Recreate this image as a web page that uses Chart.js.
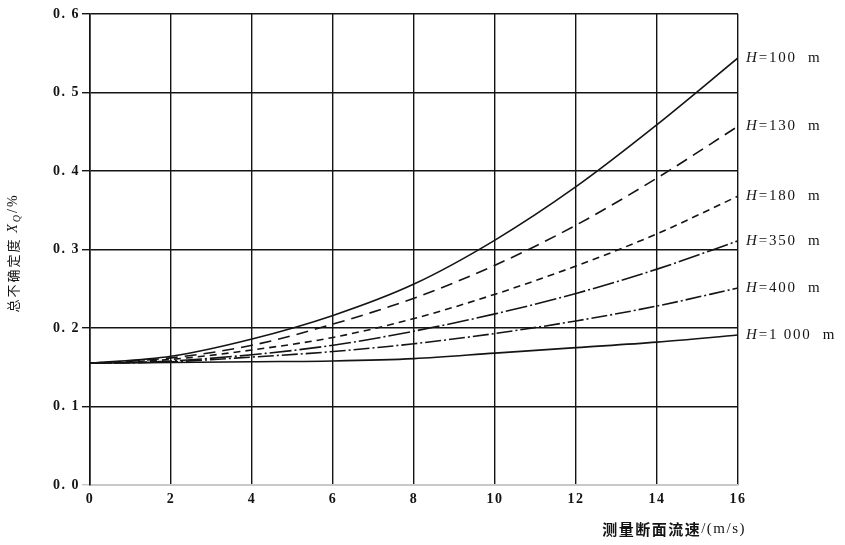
<!DOCTYPE html>
<html>
<head>
<meta charset="utf-8">
<script src="https://cdn.jsdelivr.net/npm/chart.js@4/dist/chart.umd.min.js"></script>
<style>
  html, body { margin: 0; padding: 0; background: #fff; }
  #wrap { width: 845px; height: 545px; }
</style>
</head>
<body>
<div id="wrap"><canvas id="c" width="845" height="545"></canvas></div>
<script>
// Flow velocity at the measuring section, m/s
const velocities = [0, 2, 4, 6, 8, 10, 12, 14, 16];

// Total uncertainty (%) for each head H
const h100  = [0.155, 0.164, 0.186, 0.216, 0.256, 0.312, 0.380, 0.459, 0.544];
const h130  = [0.155, 0.162, 0.178, 0.205, 0.238, 0.280, 0.331, 0.391, 0.457];
const h180  = [0.155, 0.160, 0.172, 0.188, 0.212, 0.243, 0.279, 0.320, 0.368];
const h350  = [0.155, 0.158, 0.166, 0.178, 0.196, 0.218, 0.244, 0.275, 0.311];
const h400  = [0.155, 0.157, 0.163, 0.170, 0.180, 0.193, 0.209, 0.228, 0.251];
const h1000 = [0.155, 0.156, 0.157, 0.158, 0.161, 0.168, 0.175, 0.182, 0.191];

const seriesNames = ['=100  m', '=130  m', '=180  m', '=350  m', '=400  m', '=1 000  m'];
const yTicks = [0.0, 0.1, 0.2, 0.3, 0.4, 0.5, 0.6];
const xTicks = [0, 2, 4, 6, 8, 10, 12, 14, 16];

const yTitleParts = ['总不确定度 ', 'X', 'Q', '/%'];
const xTitleParts = ['测量断面流速', '/(m/s)'];

const ink = '#141414';
const serif = '"Liberation Serif", "DejaVu Serif", serif';
const cjk = '"Noto Sans CJK SC", "Noto Sans", sans-serif';

const styles = [
  { dash: [] },
  { dash: [12, 7] },
  { dash: [7, 5] },
  { dash: [22, 3, 2, 3] },
  { dash: [16, 3, 2, 3] },
  { dash: [] }
];

const seriesValues = [h100, h130, h180, h350, h400, h1000];

const datasets = seriesValues.map((vals, i) => ({
  label: 'H' + seriesNames[i],
  data: vals.map((v, k) => ({ x: velocities[k], y: v })),
  borderColor: ink,
  borderWidth: 1.6,
  borderDash: styles[i].dash,
  pointRadius: 0,
  fill: false,
  cubicInterpolationMode: 'monotone',
  tension: 0.4
}));

// White page and slightly spaced lettering for all chart text
const spacing = {
  id: 'spacing',
  beforeDraw(chart) {
    const ctx = chart.ctx;
    ctx.fillStyle = '#fff';
    ctx.fillRect(0, 0, chart.width, chart.height);
    ctx.letterSpacing = '1.5px';
  }
};

// Curve labels at the right end of each line, plus the axis titles
const annotate = {
  id: 'annotate',
  afterDraw(chart) {
    const ctx = chart.ctx;
    const xs = chart.scales.x, ys = chart.scales.y;
    ctx.save();
    ctx.letterSpacing = '1.8px';
    ctx.fillStyle = ink;
    ctx.textBaseline = 'middle';
    ctx.textAlign = 'left';
    seriesValues.forEach((vals, i) => {
      const last = vals.length - 1;
      const px = xs.getPixelForValue(velocities[last]) + 8;
      const py = ys.getPixelForValue(vals[last]);
      ctx.font = 'italic 15px ' + serif;
      ctx.fillText('H', px, py);
      const w = ctx.measureText('H').width;
      ctx.font = '15px ' + serif;
      ctx.fillText(seriesNames[i], px + w, py);
    });

    // y-axis title, rotated
    ctx.save();
    ctx.translate(13, 253);
    ctx.rotate(-Math.PI / 2);
    ctx.textBaseline = 'middle';
    ctx.letterSpacing = '2px';
    const fonts = ['13px ' + cjk, 'italic 14px ' + serif, 'italic 10px ' + serif, '14px ' + serif];
    let total = 0;
    const widths = yTitleParts.map((t, k) => { ctx.font = fonts[k]; const w = ctx.measureText(t).width; total += w; return w; });
    let cx = -total / 2;
    yTitleParts.forEach((t, k) => {
      ctx.font = fonts[k];
      ctx.fillText(t, cx, k === 2 ? 4 : 0);
      cx += widths[k];
    });
    ctx.restore();

    // x-axis title, right aligned
    const area = chart.chartArea;
    ctx.textAlign = 'left';
    ctx.textBaseline = 'middle';
    ctx.letterSpacing = '1.5px';
    const xf = ['bold 15px ' + cjk, '15px ' + serif];
    let xw = 0;
    const xws = xTitleParts.map((t, k) => { ctx.font = xf[k]; const w = ctx.measureText(t).width; xw += w; return w; });
    let tx = area.right + 8 - xw;
    xTitleParts.forEach((t, k) => {
      ctx.font = xf[k];
      ctx.fillText(t, tx, 529);
      tx += xws[k];
    });
    ctx.restore();
  }
};

new Chart(document.getElementById('c'), {
  type: 'line',
  data: { datasets },
  options: {
    responsive: false,
    animation: false,
    layout: { padding: { left: 0, right: 107, top: 14, bottom: 0 } },
    plugins: { legend: { display: false }, tooltip: { enabled: false } },
    scales: {
      x: {
        type: 'linear',
        min: 0, max: 16,
        afterFit(scale) { scale.height = 60; },
        afterBuildTicks(scale) { scale.ticks = xTicks.map(v => ({ value: v })); },
        border: { display: true, color: '#c8c8c8', width: 1 },
        grid: {
          color: ink,
          lineWidth: 1.4,
          drawTicks: false
        },
        ticks: {
          padding: 6,
          color: ink,
          font: { family: serif, size: 14, weight: 'bold' },
          callback: v => String(v)
        }
      },
      y: {
        type: 'linear',
        min: 0, max: 0.6,
        afterFit(scale) { scale.width = 90; },
        afterBuildTicks(scale) { scale.ticks = yTicks.map(v => ({ value: v })); },
        border: { display: true, color: ink, width: 1.6 },
        grid: {
          color: ctx => (ctx.tick && ctx.tick.value === 0) ? '#c8c8c8' : ink,
          lineWidth: 1.4,
          drawTicks: true,
          tickLength: 8
        },
        ticks: {
          padding: 2,
          color: ink,
          font: { family: serif, size: 14, weight: 'bold' },
          callback: v => Number(v).toFixed(1).replace('.', '. ')
        }
      }
    }
  },
  plugins: [spacing, annotate]
});
</script>
</body>
</html>
